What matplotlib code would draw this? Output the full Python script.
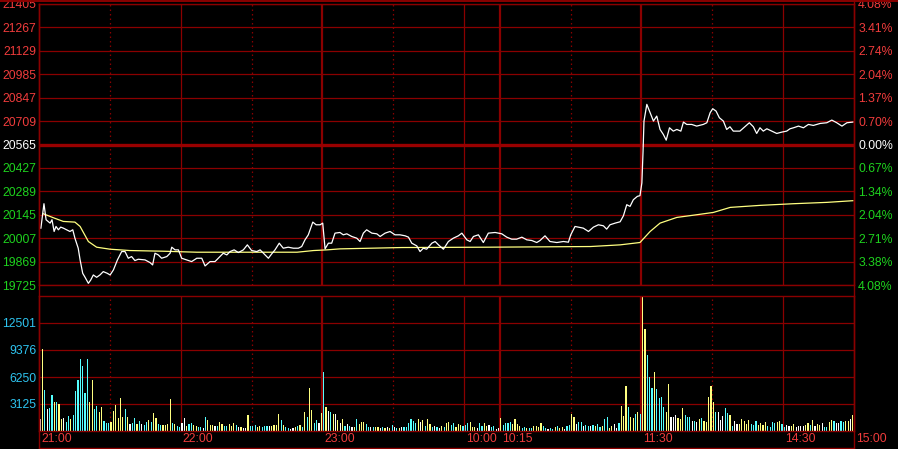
import numpy as np
import matplotlib.pyplot as plt
from matplotlib.lines import Line2D

plt.rcParams['font.family'] = ['Liberation Sans', 'DejaVu Sans']

# trading minutes: 21:00-23:00, 9:00-10:15, 10:30-11:30, 13:30-15:00 -> 345
n_min = 345
prev_close = 20565

price_labels = ['21405', '21267', '21129', '20985', '20847', '20709', '20565',
                '20427', '20289', '20145', '20007', '19869', '19725']
pct_labels = ['4.08%', '3.41%', '2.74%', '2.04%', '1.37%', '0.70%', '0.00%',
              '0.67%', '1.34%', '2.04%', '2.71%', '3.38%', '4.08%']
vol_labels = ['3125', '6250', '9376', '12501']
time_labels = ['21:00', '22:00', '23:00', '10:00', '10:15', '11:30', '14:30', '15:00']
time_ticks = [0, 60, 120, 180, 195, 255, 315, 345]
half_hours = [30, 90, 150, 225, 285]
session_breaks = [120, 195, 255]

# last price (minute, price)
price_t = [0.8, 2.1, 3.0, 4.7, 5.5, 6.4, 7.2, 8.2, 9.2, 10.3, 11.7, 13.1, 14.3, 15.2, 16.6,
           17.4, 18.5, 19.5, 20.9, 21.9, 23.0, 24.4, 25.8, 27.2, 28.9, 30.1, 31.5, 33.2,
           35.0, 36.4, 37.8, 39.2, 40.6, 42.0, 44.9, 47.0, 48.1, 49.1, 50.5, 51.9, 54.1,
           55.5, 56.2, 57.6, 59.0, 60.4, 62.5, 64.6, 66.8, 68.9, 70.3, 72.4, 74.5, 75.9,
           78.0, 79.5, 80.9, 82.6, 84.4, 86.5, 88.2, 90.0, 92.2, 93.6, 95.0, 97.1, 98.5,
           99.9, 101.7, 103.4, 105.5, 107.7, 109.8, 111.2, 112.6, 114.0, 115.9, 117.3,
           119.0, 120.1, 121.1, 122.5, 123.9, 125.3, 127.4, 128.8, 130.3, 132.4, 134.5,
           135.9, 137.3, 138.7, 140.9, 143.0, 144.4, 146.5, 148.6, 150.7, 152.8, 155.0,
           156.4, 157.8, 159.9, 161.3, 162.7, 164.1, 166.3, 167.7, 169.1, 171.2, 173.3,
           175.4, 177.5, 179.0, 181.1, 182.5, 183.9, 186.0, 188.1, 190.2, 193.1, 195.9,
           198.0, 200.1, 202.2, 204.4, 206.5, 208.6, 210.7, 212.1, 214.2, 216.3, 219.2,
           222.0, 224.1, 225.1, 226.9, 230.4, 232.6, 234.7, 236.8, 238.9, 240.3, 241.7,
           243.9, 246.0, 247.4, 248.8, 250.2, 251.6, 253.3, 254.4, 255.2, 255.7, 256.1,
           257.3, 258.7, 260.1, 261.5, 262.9, 264.3, 265.5, 266.9, 268.5, 270.0, 271.7,
           272.8, 274.2, 276.3, 278.4, 281.2, 282.7, 284.1, 285.2, 286.6, 288.0, 289.7,
           291.1, 292.5, 293.9, 296.7, 298.8, 300.7, 302.4, 303.8, 305.2, 306.6, 308.1,
           310.2, 312.3, 314.4, 316.5, 317.9, 319.4, 321.5, 323.6, 325.7, 327.8, 330.7,
           333.5, 335.6, 337.7, 339.9, 342.0, 344.5]
price = [20065, 20211, 20115, 20095, 20115, 20045, 20075, 20055, 20071, 20065, 20055, 20045,
         20055, 20005, 19945, 19875, 19795, 19771, 19735, 19755, 19785, 19771, 19785, 19805,
         19795, 19785, 19815, 19875, 19925, 19925, 19885, 19895, 19871, 19879, 19875, 19859,
         19845, 19915, 19905, 19885, 19895, 19915, 19951, 19935, 19935, 19885, 19875, 19865,
         19885, 19885, 19839, 19865, 19865, 19885, 19915, 19905, 19925, 19935, 19919, 19935,
         19965, 19931, 19925, 19935, 19915, 19885, 19911, 19935, 19975, 19945, 19951, 19945,
         19945, 19955, 19995, 20025, 20101, 20085, 20085, 20095, 19941, 19975, 19975, 20035,
         20039, 20025, 20031, 20015, 20005, 19985, 20035, 20055, 20035, 20031, 20015, 20035,
         20045, 20025, 20025, 20019, 20011, 19975, 19959, 19925, 19945, 19939, 19975, 19985,
         19965, 19939, 19985, 20005, 20019, 20035, 19995, 19985, 20015, 20025, 19979, 20035,
         20039, 20031, 20011, 19999, 19999, 20011, 19995, 19991, 19979, 19991, 20019, 19985,
         19979, 19985, 19981, 20025, 20075, 20065, 20045, 20071, 20085, 20079, 20059, 20085,
         20095, 20103, 20139, 20205, 20195, 20235, 20255, 20259, 20335, 20523, 20705, 20805,
         20755, 20705, 20735, 20655, 20625, 20591, 20665, 20645, 20655, 20645, 20699, 20685,
         20685, 20675, 20685, 20695, 20755, 20779, 20765, 20725, 20705, 20655, 20671, 20645,
         20645, 20671, 20695, 20671, 20631, 20665, 20645, 20659, 20645, 20631, 20639, 20645,
         20659, 20665, 20675, 20665, 20685, 20679, 20691, 20695, 20711, 20695, 20675, 20695,
         20699]

# average price (minute, price)
avg_t = [1.8, 6.1, 10.3, 15.2, 17.4, 20.9, 24.4, 30.1, 38.5, 52.5, 66.8, 80.9, 95.0, 109.2,
         116.2, 121.8, 127.4, 153.5, 189.5, 233.5, 246.0, 254.4, 258.7, 262.9, 270.0, 278.4,
         285.5, 292.6, 305.2, 319.4, 333.5, 344.5]
avg_price = [20151, 20127, 20105, 20101, 20075, 19985, 19951, 19939, 19931, 19927, 19921,
             19921, 19921, 19921, 19931, 19935, 19941, 19949, 19951, 19955, 19965, 19979,
             20045, 20095, 20129, 20145, 20159, 20189, 20201, 20211, 20219, 20229]

# volume per minute, colour code per bar (y yellow, c cyan, w white)
vol_night = [1390, 9490, 4750, 2550, 2700, 4170, 3360, 3360, 3130, 1390,
             1500, 1040, 1740, 1390, 1850, 4630, 5900, 8340, 7530, 4400,
             8340, 3360, 5900, 2550, 2900, 2200, 2780, 1160, 930, 930,
             1040, 2300, 3000, 1500, 3820, 1620, 2550, 1620, 810, 930,
             1500, 810, 1160, 810, 700, 1040, 1270, 1040, 2080, 1500,
             810, 700, 700, 700, 810, 3700, 930, 810, 580, 460,
             930, 1500, 580, 810, 930, 700, 580, 460, 460, 350,
             1620, 1270, 700, 700, 580, 580, 1040, 810, 580, 580,
             810, 580, 930, 700, 460, 460, 350, 350, 1850, 580,
             580, 700, 460, 580, 460, 580, 580, 580, 580, 700,
             700, 1970, 1270, 700, 460, 350, 230, 350, 460, 580,
             700, 460, 2200, 1660, 4980, 2430, 970, 1270, 970, 2050]
col_night = ("wycwccycyy" "wccycccccc" "cyyccyyccc" "yyyyyycywc" "cycwccycyy" "ccyyyycycc"
             "wwyccyyccw" "cyyywcyycc" "yyycwywwyc" "ccyycccwyy" "yycyccwwyc" "ycycyyccwy")
vol_am1 = [6830, 2780, 2320, 2200, 1970, 1970, 1270, 970, 1390, 580,
           850, 580, 460, 460, 1390, 850, 1040, 1040, 850, 460,
           460, 460, 460, 460, 350, 460, 350, 460, 350, 700,
           460, 350, 350, 460, 460, 460, 930, 1390, 1160, 930,
           1390, 1040, 1270, 580, 1390, 760, 460, 580, 460, 350,
           580, 460, 930, 1040, 700, 930, 460, 810, 700, 580,
           700, 930, 1040, 460, 460, 350, 930, 580, 930, 580,
           700, 460, 580, 230, 350]
col_am1 = ("cywcywywyc" "wcwycyyycc" "wcyywcywyc" "wcywcccccc" "ywycyycwcw" "ycyyccyyyc"
           "ccyyywccyy" "wccww")
vol_am2 = [1500, 700, 930, 930, 1040, 810, 1390, 810, 580, 350,
           460, 350, 350, 350, 580, 580, 460, 930, 580, 350,
           230, 350, 230, 460, 580, 350, 460, 230, 580, 700,
           1970, 1620, 810, 1040, 1040, 580, 700, 580, 580, 700,
           580, 810, 460, 580, 1390, 1620, 350, 580, 810, 350,
           930, 2900, 1740, 5200, 2780, 1620, 1500, 1970, 2200, 1970]
col_am2 = "yccccyyyyc" "cyccyyyycc" "wccycyywcc" "yywccwccwc" "yccyccyyww" "cyyycyycyc"
vol_pm = [15600, 11800, 8800, 6250, 4980, 6830, 4860, 3820, 3940, 2780,
          2200, 5440, 1620, 1620, 1850, 1500, 1390, 2660, 1850, 1620,
          1620, 1160, 1160, 1040, 1390, 1500, 1160, 1040, 3940, 5210,
          3360, 2200, 2200, 1270, 1740, 2660, 2080, 1850, 580, 1160,
          810, 810, 1390, 1160, 810, 1270, 810, 700, 1160, 700,
          930, 700, 1040, 580, 460, 1040, 930, 1040, 1160, 810,
          460, 700, 580, 580, 810, 460, 580, 580, 580, 700,
          930, 700, 1270, 580, 810, 700, 930, 460, 460, 1040,
          1270, 1160, 930, 930, 1160, 1040, 1160, 1160, 1390, 1850]
col_pm = ("yycccycccc" "yywwwyyycc" "cwcwycyyyy" "ycwwwccycw" "wyyyyycccy" "yyyccccyyc"
          "cwwyywwwwy" "ycywyywccy" "ycwwccyywy")

volume = vol_night + vol_am1 + vol_am2 + vol_pm
vol_codes = col_night + col_am1 + col_am2 + col_pm

RED = '#f03c3c'
GREEN = '#1ed21e'
GRID = '#8a0000'
VOLTXT = '#2ec4f0'
palette = {'y': '#ffff80', 'c': '#55ffff', 'w': '#ffffff'}

W, H = 898, 449
fig = plt.figure(figsize=(W / 100, H / 100), dpi=100, facecolor='black')


def box(x0, y0, x1, y1):
    return [x0 / W, 1 - y1 / H, (x1 - x0) / W, (y1 - y0) / H]


ax = fig.add_axes(box(39, 4, 854, 285))
axv = fig.add_axes(box(39, 296, 854, 431))

p_lo, p_hi = int(price_labels[-1]), int(price_labels[0])
levels = np.linspace(p_hi, p_lo, len(price_labels))

for a in (ax, axv):
    a.set_facecolor('black')
    a.set_xlim(0, n_min)
    for s in a.spines.values():
        s.set_color(GRID)
        s.set_linewidth(1.0)
    a.set_xticks([])
    for t in time_ticks[1:-1]:
        lw = 1.6 if t in session_breaks else 0.9
        a.axvline(t, color=GRID, lw=lw, zorder=1, snap=True)
    for t in half_hours:
        a.axvline(t, color=GRID, lw=0.9, ls=(0, (1.2, 2.4)), zorder=1, snap=True)

# price panel
ax.set_ylim(p_lo, p_hi)
for lv, lab in zip(levels, price_labels):
    if int(lab) == prev_close:
        ax.axhline(lv, color='#990000', lw=2.4, zorder=1, snap=True)
    else:
        ax.axhline(lv, color=GRID, lw=0.9, zorder=1, snap=True)
ax.set_yticks(levels)
ax.set_yticklabels(price_labels)
ax.tick_params(axis='y', length=0, pad=2, labelsize=8.8)
for lab in ax.get_yticklabels():
    v = int(lab.get_text())
    lab.set_color('white' if v == prev_close else (RED if v > prev_close else GREEN))

ax2 = ax.twinx()
ax2.set_ylim(p_lo, p_hi)
ax2.set_yticks(levels)
ax2.set_yticklabels(pct_labels)
ax2.tick_params(axis='y', length=0, pad=3, labelsize=8.8)
for s in ax2.spines.values():
    s.set_visible(False)
for i, lab in enumerate(ax2.get_yticklabels()):
    mid = pct_labels.index('0.00%')
    lab.set_color('white' if i == mid else (RED if i < mid else GREEN))

ax.plot(avg_t, avg_price, color='#ffff80', lw=0.9, zorder=3)
ax.plot(price_t, price, color='white', lw=0.9, zorder=4)

# volume panel
vol_ticks = [float(v) for v in vol_labels]
axv.set_ylim(0, vol_ticks[0] * 5)
for v in vol_ticks:
    axv.axhline(v, color=GRID, lw=0.9, zorder=1, snap=True)
axv.set_yticks(vol_ticks)
axv.set_yticklabels(vol_labels)
axv.tick_params(axis='y', length=0, pad=2, labelsize=8.8, colors=VOLTXT)
x = np.arange(len(volume)) + 0.5
axv.bar(x, volume, width=0.5, color=[palette[c] for c in vol_codes],
        linewidth=0, antialiased=False, zorder=2)

for t, lab in zip(time_ticks, time_labels):
    axv.annotate(lab, xy=(t, 0), xycoords=('data', 'axes fraction'),
                 xytext=(1.5, -6), textcoords='offset points', ha='left', va='center',
                 color=RED, fontsize=8.8, annotation_clip=False)

# outer frame lines
fig.add_artist(Line2D([39 / W, 39 / W], [0, 1 - 4 / H], color=GRID, lw=1.0))
fig.add_artist(Line2D([854 / W, 854 / W], [0, 1], color=GRID, lw=1.0))
fig.add_artist(Line2D([39 / W, 854 / W], [1 - 448 / H, 1 - 448 / H], color=GRID, lw=1.0))
fig.add_artist(Line2D([0, 1], [1 - 1 / H, 1 - 1 / H], color=GRID, lw=1.4))

fig.savefig('out.png', dpi=100, facecolor='black')
